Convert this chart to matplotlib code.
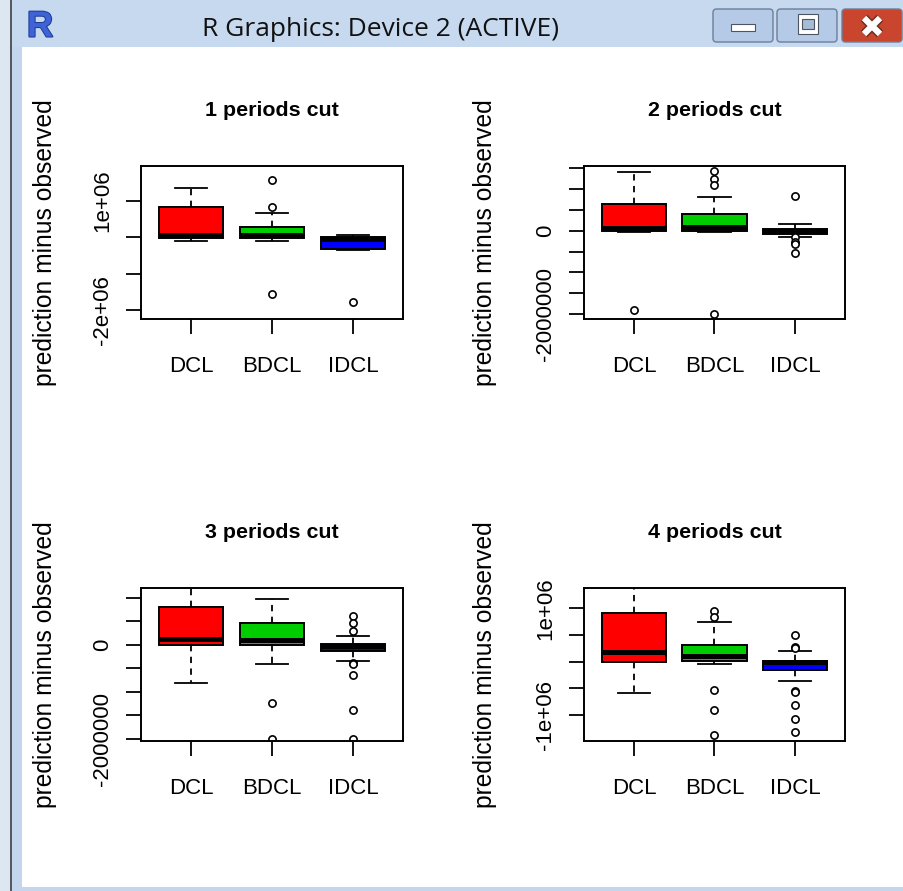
import matplotlib
matplotlib.use("Agg")
import matplotlib.pyplot as plt
from matplotlib.patches import Rectangle, FancyBboxPatch
from matplotlib.lines import Line2D
import matplotlib.patheffects as pe

plt.rcParams['font.family'] = ['Liberation Sans', 'DejaVu Sans']

# ---------------- data (values in millions) ----------------
SCALE = 1e6
categories = ["DCL", "BDCL", "IDCL"]
box_colors = ["#FF0000", "#00CD00", "#0000FF"]
titles = ["1 periods cut", "2 periods cut", "3 periods cut", "4 periods cut"]
ylabel_text = "prediction minus observed"
window_title = "R Graphics: Device 2 (ACTIVE)"

p1_whislo = [-0.09, -0.09, -0.34]
p1_q1 = [-0.01, -0.01, -0.32]
p1_med = [0.055, 0.055, -0.04]
p1_q3 = [0.83, 0.28, 0.0]
p1_whishi = [1.36, 0.67, 0.07]
p1_fliers = [[], [1.58, 0.83, -1.55], [-1.79]]
p1_ylim = [-2.25, 1.96]
p1_ticks = [-2.0, -1.0, 0.0, 1.0]
p1_ticklabels = ["-2e+06", "", "", "1e+06"]

p2_whislo = [-0.035, -0.035, -0.16]
p2_q1 = [0.0, 0.0, -0.08]
p2_med = [0.07, 0.08, -0.02]
p2_q3 = [0.63, 0.39, 0.04]
p2_whishi = [1.40, 0.80, 0.15]
p2_fliers = [[-1.89], [1.42, 1.22, 1.09, -1.99], [0.82, -0.15, -0.27, -0.32, -0.54]]
p2_ylim = [-2.11, 1.54]
p2_ticks = [-2.0, -1.5, -1.0, -0.5, 0.0, 0.5, 1.0, 1.5]
p2_ticklabels = ["-2000000", "", "", "", "0", "", "", ""]

p3_whislo = [-0.81, -0.41, -0.34]
p3_q1 = [0.0, 0.0, -0.13]
p3_med = [0.13, 0.11, -0.015]
p3_q3 = [0.81, 0.46, 0.02]
p3_whishi = [1.30, 0.97, 0.19]
p3_fliers = [[], [-1.23, -2.0], [0.61, 0.46, 0.30, -0.38, -0.41, -0.64, -1.39, -2.0]]
p3_ylim = [-2.045, 1.21]
p3_ticks = [-2.0, -1.5, -1.0, -0.5, 0.0, 0.5, 1.0]
p3_ticklabels = ["-2000000", "", "", "", "0", "", ""]

p4_whislo = [-0.59, -0.04, -0.37]
p4_q1 = [0.0, 0.015, -0.155]
p4_med = [0.18, 0.096, -0.01]
p4_q3 = [0.92, 0.315, 0.02]
p4_whishi = [1.45, 0.75, 0.20]
p4_fliers = [[], [0.94, 0.83, -0.53, -0.90, -1.37],
             [0.49, 0.28, 0.26, -0.55, -0.58, -0.82, -1.07, -1.33]]
p4_ylim = [-1.49, 1.38]
p4_ticks = [-1.0, -0.5, 0.0, 0.5, 1.0]
p4_ticklabels = ["-1e+06", "", "", "", "1e+06"]

panels = [
    (p1_whislo, p1_q1, p1_med, p1_q3, p1_whishi, p1_fliers, p1_ylim, p1_ticks, p1_ticklabels),
    (p2_whislo, p2_q1, p2_med, p2_q3, p2_whishi, p2_fliers, p2_ylim, p2_ticks, p2_ticklabels),
    (p3_whislo, p3_q1, p3_med, p3_q3, p3_whishi, p3_fliers, p3_ylim, p3_ticks, p3_ticklabels),
    (p4_whislo, p4_q1, p4_med, p4_q3, p4_whishi, p4_fliers, p4_ylim, p4_ticks, p4_ticklabels),
]

# ---------------- figure ----------------
W, H = 904, 891
fig = plt.figure(figsize=(W / 100, H / 100), dpi=100)
fig.patch.set_facecolor("white")


def fx(px):
    return px / W


def fy(py):
    return 1 - py / H


def frect(x0, y0, x1, y1, **kw):
    r = Rectangle((fx(x0), fy(y1)), fx(x1) - fx(x0), fy(y0) - fy(y1),
                  transform=fig.transFigure, **kw)
    fig.patches.append(r)
    return r


# window chrome
frect(0, 0, W, 47, facecolor="#c8daef", edgecolor="none", zorder=0)
frect(0, 0, W, 14, facecolor="#d3e2f3", edgecolor="none", zorder=0)
frect(0, 0, 10, H, facecolor="#dde7f2", edgecolor="none", zorder=0)
frect(10, 0, 12, H, facecolor="#555a60", edgecolor="none", zorder=0)
frect(12, 0, 22, H, facecolor="#c3d6ed", edgecolor="none", zorder=0)
frect(12, 0, W, 47, facecolor="#c6d9ef", edgecolor="none", zorder=0)
frect(12, 887, W, H, facecolor="#c3d6ed", edgecolor="none", zorder=0)

fig.text(fx(40), fy(27), "R", fontsize=26, fontweight="bold", color="#3d63d6",
         ha="center", va="center",
         path_effects=[pe.withStroke(linewidth=1.5, foreground="#1f3c99")])
fig.text(fx(381), fy(29), window_title, fontsize=19, color="#111111",
         ha="center", va="center", family=["Open Sans", "DejaVu Sans"])


def button(x0, x1, color):
    b = FancyBboxPatch((fx(x0), fy(42)), fx(x1) - fx(x0), fy(9) - fy(42),
                       boxstyle="round,pad=0,rounding_size=0.004",
                       transform=fig.transFigure, facecolor=color,
                       edgecolor="#6d7f99", linewidth=1.0)
    fig.patches.append(b)


button(713, 773, "#b4cae6")
button(777, 837, "#b4cae6")
button(842, 902, "#c9452d")
frect(731, 24, 755, 31, facecolor="white", edgecolor="#4d5563", linewidth=0.8)
frect(798, 14, 818, 34, facecolor="white", edgecolor="#4d5563", linewidth=0.8)
frect(802, 19, 814, 29, facecolor="#a9bcd6", edgecolor="#4d5563", linewidth=0.8)
x_strokes = [(864, 18, 880, 34), (864, 34, 880, 18)]
for lw, col, z in [(6.5, "#6b2a20", 5), (4.5, "white", 6)]:
    for (xa, ya, xb, yb) in x_strokes:
        ln = Line2D([fx(xa), fx(xb)], [fy(ya), fy(yb)], transform=fig.transFigure,
                    color=col, linewidth=lw, solid_capstyle="butt", zorder=z)
        fig.lines.append(ln)

# panel geometry in pixels (left, top, right, bottom)
boxes = [(141, 166, 403, 319), (584, 166, 845, 319),
         (141, 588, 403, 741), (584, 588, 845, 741)]
ylab_x = [45, 485, 45, 485]

for i, (pan, (l, t, r, b)) in enumerate(zip(panels, boxes)):
    whislo, q1, med, q3, whishi, fliers, ylim, ticks, ticklabels = pan
    ax = fig.add_axes([fx(l), fy(b), fx(r) - fx(l), fy(t) - fy(b)])
    stats = []
    for k in range(len(categories)):
        stats.append(dict(whislo=whislo[k] * SCALE, q1=q1[k] * SCALE, med=med[k] * SCALE,
                          q3=q3[k] * SCALE, whishi=whishi[k] * SCALE,
                          fliers=[v * SCALE for v in fliers[k]], label=categories[k]))
    bp = ax.bxp(stats, positions=[1, 2, 3], widths=0.8, capwidths=0.4,
                patch_artist=True,
                boxprops=dict(linewidth=1.4, edgecolor="black"),
                medianprops=dict(color="black", linewidth=3.6, solid_capstyle="butt"),
                whiskerprops=dict(linewidth=1.3, linestyle=(0, (3.5, 3))),
                capprops=dict(linewidth=1.3),
                flierprops=dict(marker="o", markerfacecolor="white",
                                markeredgecolor="black", markersize=5.2,
                                markeredgewidth=1.2))
    for patch, c in zip(bp["boxes"], box_colors):
        patch.set_facecolor(c)
    ax.set_xlim(0.38, 3.62)
    ax.set_ylim(ylim[0] * SCALE, ylim[1] * SCALE)
    ax.set_xticks([1, 2, 3])
    ax.set_xticklabels(categories, fontsize=16)
    ax.set_yticks([v * SCALE for v in ticks])
    ax.set_yticklabels(ticklabels, fontsize=16, rotation=90, va="center")
    ax.tick_params(axis="both", direction="out", length=10.8, width=1.3, color="black")
    ax.tick_params(axis="x", pad=16)
    ax.tick_params(axis="y", pad=9.5)
    for s in ax.spines.values():
        s.set_linewidth(1.4)
    ax.set_title(titles[i], fontsize=15.4, fontweight="bold", pad=36)
    fig.text(fx(ylab_x[i]), fy((t + b) / 2), ylabel_text, rotation=90,
             fontsize=17.7, ha="center", va="center")

fig.savefig("out.png", dpi=100)
